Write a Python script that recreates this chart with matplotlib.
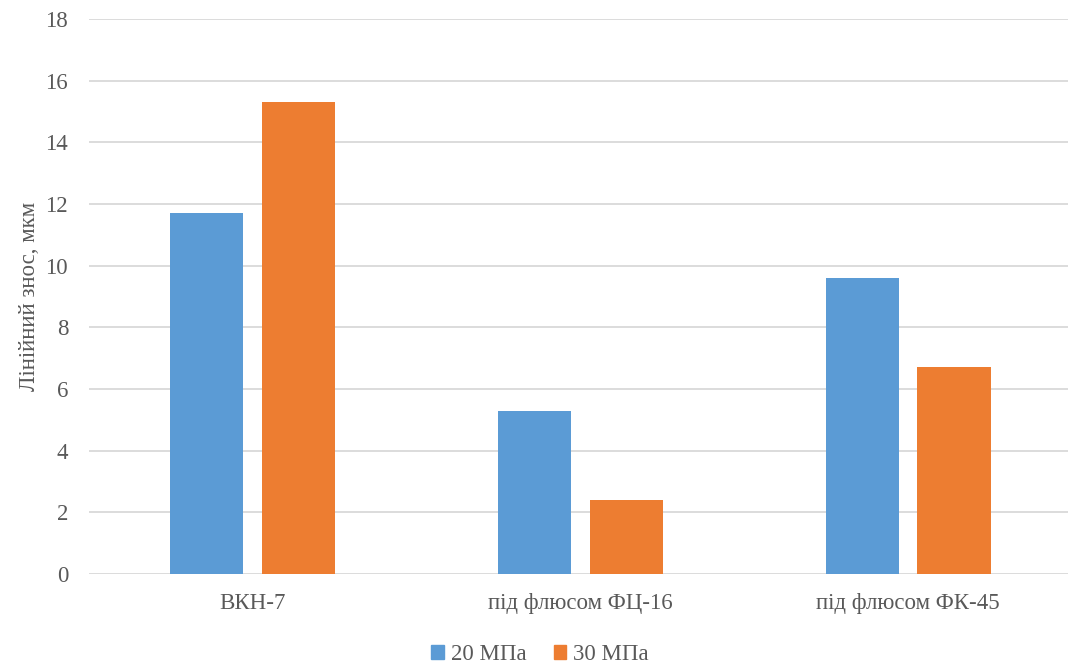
import matplotlib.pyplot as plt
from matplotlib.patches import Patch
import numpy as np

plt.rcParams['font.family'] = ['Liberation Serif', 'DejaVu Serif']

categories = ["ВКН-7", "під флюсом ФЦ-16", "під флюсом ФК-45"]
series_names = ["20 МПа", "30 МПа"]
values_20 = [11.7, 5.3, 9.6]
values_30 = [15.3, 2.4, 6.7]
colors = ["#5B9BD5", "#ED7D31"]
text_color = "#595959"

fig = plt.figure(figsize=(10.68, 6.68), dpi=100)
ax = fig.add_axes([89 / 1068, 94 / 668, 979 / 1068, 555 / 668])

x = np.arange(len(categories))
width = 0.223
offset = 0.14
ax.bar(x - offset, values_20, width, color=colors[0], zorder=3)
ax.bar(x + offset, values_30, width, color=colors[1], zorder=3)

ax.set_xlim(-0.5, 2.488)
ax.set_ylim(0, 18)
ax.set_yticks(range(0, 19, 2))
ax.set_xticks(x)
ax.set_xticklabels(categories)
ax.grid(axis="y", color="#D9D9D9", linewidth=1.3, zorder=0)
ax.tick_params(axis="both", length=0, labelsize=16.5, colors=text_color)
ax.tick_params(axis="x", pad=14)
ax.tick_params(axis="y", pad=15)
for s in ax.spines.values():
    s.set_visible(False)

ax.set_ylabel("Лінійний знос, мкм", fontsize=16.5, color=text_color, labelpad=4)

handles = [Patch(color=c, label=n) for c, n in zip(colors, series_names)]
fig.legend(handles=handles, loc="center", bbox_to_anchor=(540 / 1068, 1 - 655 / 668),
           ncol=2, frameon=False, fontsize=16.5, labelcolor=text_color,
           handlelength=0.55, handleheight=0.55, handletextpad=0.3, columnspacing=1.2)

fig.savefig("out.png", dpi=100)
